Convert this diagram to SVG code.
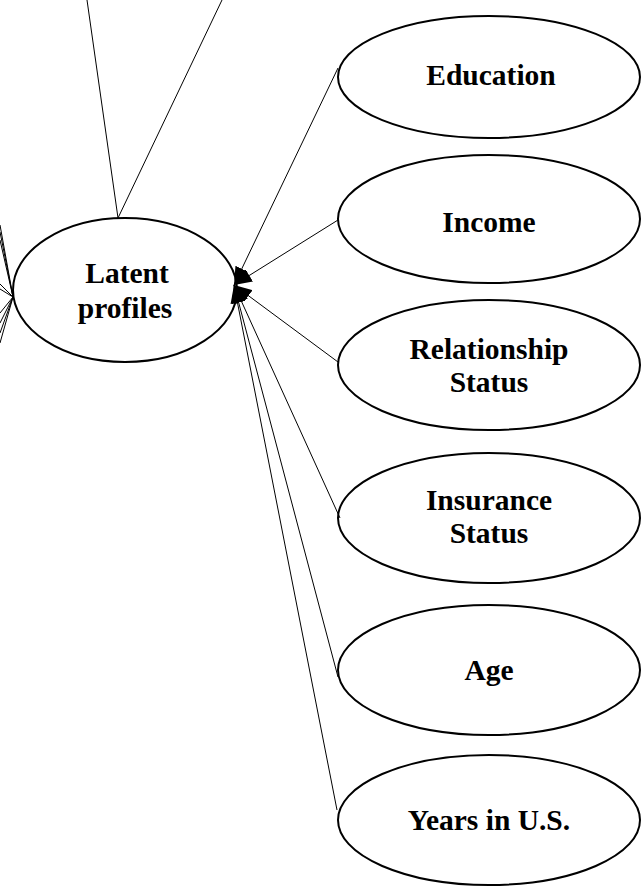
<svg xmlns="http://www.w3.org/2000/svg" width="641" height="886" viewBox="0 0 641 886">
<style>
.node ellipse{fill:#fff;stroke:#000;stroke-width:2}
.node text{font-family:"Liberation Serif","Times New Roman",serif;font-weight:bold;font-size:29.5px;text-anchor:middle;fill:#000}
.edges line{stroke:#000;stroke-width:1}
.arr{marker-end:url(#ah)}
</style>
<defs>
<marker id="ah" markerWidth="19" markerHeight="14" refX="18" refY="7" orient="auto" markerUnits="userSpaceOnUse">
<path d="M0,0 L18,7 L0,14 Z" fill="#000"/>
</marker>
</defs>
<rect width="641" height="886" fill="#fff"/>
<g class="node" id="latent">
<ellipse cx="125" cy="290" rx="112" ry="72"/>
<text x="127" y="283">Latent</text>
<text x="125" y="318">profiles</text>
</g>
<g class="node" id="education">
<ellipse cx="489" cy="77" rx="151" ry="61"/>
<text x="491" y="85">Education</text>
</g>
<g class="node" id="income">
<ellipse cx="489" cy="219" rx="151" ry="64"/>
<text x="489" y="232">Income</text>
</g>
<g class="node" id="relationship">
<ellipse cx="489" cy="365" rx="151" ry="65"/>
<text x="489" y="359">Relationship</text>
<text x="489" y="392">Status</text>
</g>
<g class="node" id="insurance">
<ellipse cx="489" cy="518" rx="151" ry="65"/>
<text x="489" y="510">Insurance</text>
<text x="489" y="543">Status</text>
</g>
<g class="node" id="age">
<ellipse cx="489" cy="670" rx="151" ry="65"/>
<text x="489" y="680">Age</text>
</g>
<g class="node" id="years">
<ellipse cx="489" cy="820" rx="151" ry="65"/>
<text x="489" y="830">Years in U.S.</text>
</g>
<g class="edges" id="connectors">
<line x1="87" y1="0" x2="118" y2="218"/>
<line x1="222" y1="0" x2="118" y2="218"/>
<line x1="0" y1="225" x2="13" y2="297"/>
<line x1="0" y1="232" x2="13" y2="297"/>
<line x1="0" y1="240" x2="13" y2="297"/>
<line x1="0" y1="284" x2="13" y2="297"/>
<line x1="0" y1="289" x2="13" y2="297"/>
<line x1="0" y1="313" x2="13" y2="297"/>
<line x1="0" y1="323" x2="13" y2="297"/>
<line x1="0" y1="333" x2="13" y2="297"/>
<line x1="0" y1="343" x2="13" y2="297"/>
<line class="arr" x1="338" y1="68" x2="234" y2="285"/>
<line class="arr" x1="338" y1="220" x2="234" y2="285"/>
<line class="arr" x1="338" y1="362" x2="234" y2="285"/>
<line class="arr" x1="340" y1="518" x2="234" y2="285"/>
<line class="arr" x1="338" y1="677" x2="234" y2="285"/>
<line class="arr" x1="337" y1="810" x2="234" y2="285"/>
</g>
</svg>
